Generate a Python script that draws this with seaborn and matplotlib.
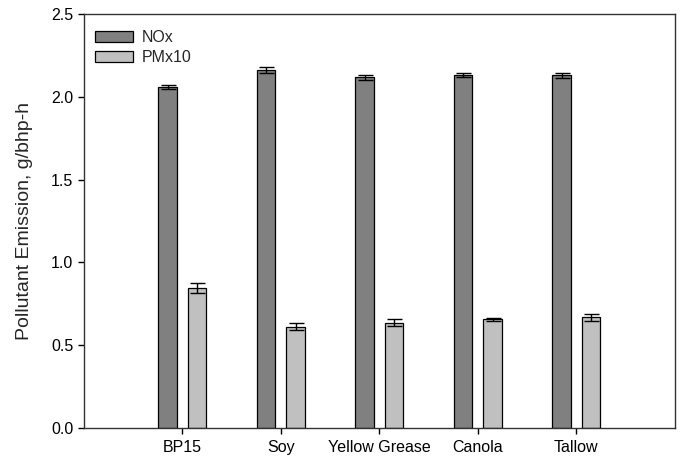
import numpy as np
import pandas as pd
import matplotlib
matplotlib.use('Agg')
import matplotlib.pyplot as plt
import seaborn as sns

sns.set_style('ticks')
plt.rcParams['font.family'] = ['Liberation Sans', 'DejaVu Sans']

fuels = ['BP15', 'Soy', 'Yellow Grease', 'Canola', 'Tallow']
nox = [2.06, 2.16, 2.12, 2.13, 2.13]
nox_err = [0.012, 0.018, 0.015, 0.012, 0.015]
pm = [0.845, 0.612, 0.636, 0.656, 0.667]
pm_err = [0.030, 0.020, 0.020, 0.010, 0.020]

df = pd.DataFrame({
    'Fuel': fuels * 2,
    'Emission': nox + pm,
    'err': nox_err + pm_err,
    'Pollutant': ['NOx'] * len(fuels) + ['PMx10'] * len(fuels),
})

f, ax = plt.subplots(figsize=(6.81, 4.59), dpi=100)
sns.barplot(data=df, x='Fuel', y='Emission', hue='Pollutant',
            palette=['#808080', '#c0c0c0'], width=0.6, gap=0.37,
            edgecolor='black', linewidth=0.9, errorbar=None, ax=ax)

# error bars on top of each bar
for bars, (name, sub) in zip(ax.containers, df.groupby('Pollutant', sort=False)):
    xs = [b.get_x() + b.get_width() / 2 for b in bars]
    ax.errorbar(xs, sub['Emission'], yerr=sub['err'], fmt='none',
                ecolor='black', elinewidth=1, capsize=5.4, capthick=1)

ax.set_xlim(-1, 5)
ax.set_ylim(0, 2.5)
ax.set_yticks(np.arange(0, 2.51, 0.5))
ax.set_yticklabels([f'{v:.1f}' for v in np.arange(0, 2.51, 0.5)])
ax.set_xlabel('')
ax.set_ylabel('Pollutant Emission, g/bhp-h', fontsize=14, labelpad=13)
ax.tick_params(labelsize=11.5, direction='out', length=4, width=1, colors='black')
ax.tick_params(axis='x', pad=5)
for s in ax.spines.values():
    s.set_visible(True)
    s.set_color('#333333')
    s.set_linewidth(1)

ax.legend(loc='upper left', bbox_to_anchor=(0, 0.988), frameon=False,
          fontsize=11.5, title=None,
          handlelength=2.4, handleheight=0.68, borderaxespad=0.4,
          borderpad=0.3, labelspacing=0.3, handletextpad=0.55)

f.subplots_adjust(left=0.123, right=0.991, top=0.969, bottom=0.068)
f.savefig('out.png', dpi=100)
